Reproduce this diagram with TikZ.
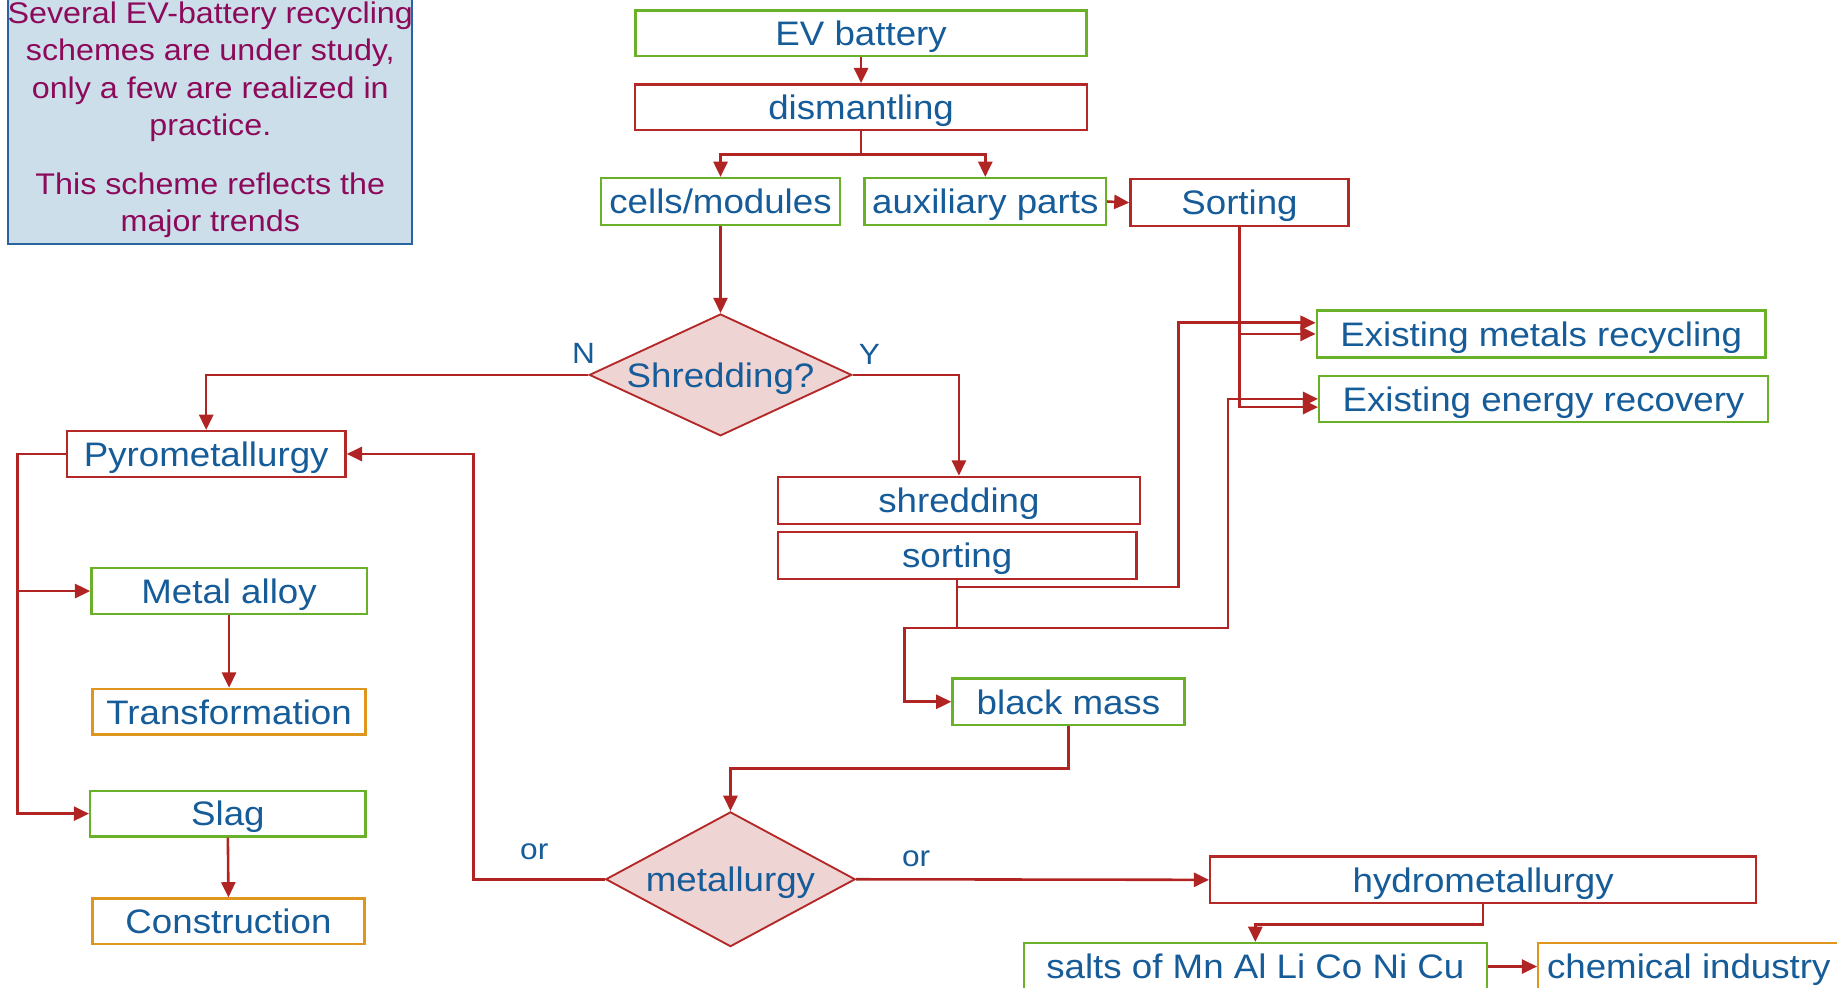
\documentclass[tikz,border=0pt]{standalone}
\usepackage{fontspec}
\setmainfont{Liberation Sans}[FakeStretch=1.08]
\usetikzlibrary{arrows.meta,shapes.geometric}
\definecolor{txtblue}{RGB}{22,92,153}
\definecolor{boxgreen}{RGB}{106,176,40}
\definecolor{boxred}{RGB}{180,40,40}
\definecolor{boxorange}{RGB}{222,150,30}
\definecolor{linered}{RGB}{176,36,36}
\definecolor{notefill}{RGB}{205,222,235}
\definecolor{noteborder}{RGB}{40,100,160}
\definecolor{notetext}{RGB}{140,10,90}
\definecolor{diafill}{RGB}{239,212,212}
\tikzset{
  box/.style={draw, line width=2pt, inner sep=0pt, text height=21pt, text depth=0pt,
    text=txtblue, font=\fontsize{29}{32}\selectfont, fill=white},
  gbox/.style={box, draw=boxgreen},
  rbox/.style={box, draw=boxred},
  obox/.style={box, draw=boxorange},
  dia/.style={diamond, draw=boxred, line width=1.6pt, fill=diafill, inner sep=0pt,
    text height=21pt, text depth=0pt, text=txtblue, font=\fontsize{29}{32}\selectfont},
  link/.style={draw=linered, line width=2.2pt, -{Triangle[length=13pt,width=12pt]}},
  lbl/.style={anchor=base, inner sep=0pt, text=txtblue, font=\fontsize{25}{30}\selectfont},
}
\begin{document}
\begin{tikzpicture}[x=1pt,y=-1pt]
\useasboundingbox (0,0) rectangle (1568,843);
% note
\node[draw=noteborder, line width=1.6pt, fill=notefill, minimum width=345pt, minimum height=220pt, inner sep=0pt] (notebox) at (179.5,98) {};
\node[anchor=north, align=center, inner sep=0pt, text=notetext, font=\fontsize{25.5}{32}\selectfont] (note) at (179.5,1)
  {Several EV-battery recycling\\ schemes are under study,\\ only a few are realized in\\ practice.\\[18pt] This scheme reflects the\\ major trends};
% nodes
\node[gbox, minimum width=385pt, minimum height=39pt] (ev) at (735,28.5) {EV battery};
\node[rbox, minimum width=386pt, minimum height=39pt] (dis) at (735,91.5) {dismantling};
\node[gbox, minimum width=204pt, minimum height=40pt] (cells) at (615,172) {cells/modules};
\node[gbox, minimum width=206pt, minimum height=40pt] (aux) at (841,172) {auxiliary parts};
\node[rbox, minimum width=186pt, minimum height=40pt] (sortA) at (1058,173) {Sorting};
\node[gbox, minimum width=383pt, minimum height=40pt] (metals) at (1315.5,285) {Existing metals recycling};
\node[gbox, minimum width=383pt, minimum height=39pt] (energy) at (1317.5,340.5) {Existing energy recovery};
\node[dia, minimum width=224pt, minimum height=104pt] (shq) at (615,320) {\makebox[0pt]{Shredding?}};
\node[rbox, minimum width=238pt, minimum height=39pt] (pyro) at (176,387.5) {Pyrometallurgy};
\node[rbox, minimum width=309pt, minimum height=40pt] (shred) at (818.5,427) {shredding};
\node[rbox, minimum width=306pt, minimum height=40pt] (sortB) at (817,474) {sorting};
\node[gbox, minimum width=198pt, minimum height=40pt] (black) at (912,599) {black mass};
\node[dia, minimum width=213pt, minimum height=115pt] (met) at (623.5,750.5) {\makebox[0pt]{metallurgy}};
\node[rbox, minimum width=466pt, minimum height=40pt] (hydro) at (1266,751) {hydrometallurgy};
\node[gbox, minimum width=395pt, minimum height=40pt] (salts) at (1071.5,825) {salts of Mn Al Li Co Ni Cu};
\node[obox, minimum width=257pt, minimum height=40pt] (chem) at (1441.5,825) {chemical industry};
\node[gbox, minimum width=235pt, minimum height=39pt] (alloy) at (195.5,504.5) {Metal alloy};
\node[obox, minimum width=233pt, minimum height=39pt] (trans) at (195.5,607.5) {Transformation};
\node[gbox, minimum width=235pt, minimum height=39pt] (slag) at (194.5,694.5) {Slag};
\node[obox, minimum width=232pt, minimum height=39pt] (constr) at (195,786.5) {Construction};
% labels
\node[lbl] (nlab) at (498,310) {N};
\node[lbl] (ylab) at (742,311) {Y};
\node[lbl] (orl) at (456,734) {or};
\node[lbl] (orr) at (782,740) {or};
% connectors
\draw[link] (ev.south) -- (dis.north);
\draw[link] (dis.south) -- ++(0,20) -| (cells.north);
\draw[link] (dis.south) -- ++(0,20) -| (aux.north);
\draw[link] (aux.east) -- (sortA.west);
\draw[link] (cells.south) -- (shq.north);
\draw[link] (shq.west) -| (pyro.north);
\draw[link] (shq.east) -| (shred.north);
\draw[link] (sortA.south) |- (metals.west);
\draw[link] (sortA.south) |- ([yshift=-7pt]energy.west);
\draw[link] (sortB.south) -- ++(0,6) -- ++(189,0) |- ([yshift=9.5pt]metals.west);
\draw[link] (sortB.south) -- ++(0,41) -- ++(231,0) |- (energy.west);
\draw[link] (sortB.south) -- ++(0,41) -- ++(-45,0) |- (black.west);
\draw[link] (black.south) -- ++(0,36) -| (met.north);
\draw[link] (met.east) -- (hydro.west);
\draw[link] (met.west) -- ++(-112,0) |- (pyro.east);
\draw[link] (hydro.south) -- ++(0,17) -| (salts.north);
\draw[link] (salts.east) -- (chem.west);
\draw[link] (pyro.west) -- ++(-41,0) |- (alloy.west);
\draw[link] (pyro.west) -- ++(-41,0) |- (slag.west);
\draw[link] (alloy.south) -- (trans.north);
\draw[link] (slag.south) -- (constr.north);
\end{tikzpicture}
\end{document}
